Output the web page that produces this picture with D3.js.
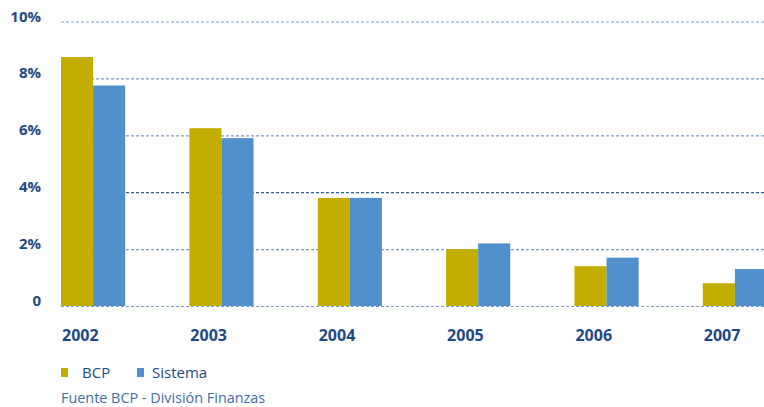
<!DOCTYPE html>
<html>
<head>
<meta charset="utf-8">
<script src="https://cdnjs.cloudflare.com/ajax/libs/d3/7.8.5/d3.min.js"></script>
<style>
  body { margin: 0; background: #fff; }
  svg { display: block; font-family: "Open Sans", "Noto Sans", sans-serif; }
</style>
</head>
<body>
<svg></svg>
<script>
const width = 764;
const height = 407;

// datos
const years = ["2002", "2003", "2004", "2005", "2006", "2007"];
const bcp = [8.75, 6.25, 3.8, 2.0, 1.4, 0.8];
const sistema = [7.75, 5.9, 3.8, 2.2, 1.7, 1.3];
const yTicks = [0, 2, 4, 6, 8, 10];
const seriesNames = ["BCP", "Sistema"];
const colors = ["#c3ae00", "#5190cd"];
const fuente = "Fuente BCP - División Finanzas";

const textColor = "#1d4a86";

let svg = d3.select("svg")
    .attr("width", width)
    .attr("height", height);

// escalas
let scX = d3.scaleBand()
    .domain(years)
    .range([61, 767])
    .paddingInner(0.5)
    .paddingOuter(0);
let scSeries = d3.scaleBand()
    .domain(seriesNames)
    .range([0, scX.bandwidth()]);
let scY = d3.scaleLinear()
    .domain([0, 10])
    .range([306, 21.5]);

// lineas de fondo punteadas
svg.append("g")
    .selectAll("line")
    .data(yTicks)
    .enter()
    .append("line")
    .attr("x1", 61)
    .attr("x2", width)
    .attr("y1", d => scY(d) + 0.5)
    .attr("y2", d => scY(d) + 0.5)
    .attr("stroke", d => d == 4 ? "#2f5a94" : "#7e9cc2")
    .attr("stroke-width", 1.2)
    .attr("stroke-dasharray", "3,2");

// etiquetas del eje Y
svg.append("g")
    .selectAll("text")
    .data(yTicks)
    .enter()
    .append("text")
    .attr("x", 41)
    .attr("y", d => scY(d))
    .attr("text-anchor", "end")
    .style("font-size", "15px")
    .style("font-weight", "bold")
    .style("fill", textColor)
    .text(d => d == 0 ? "0" : d + "%");

// barras
let data = years.map((y, i) => ({ year: y, values: [bcp[i], sistema[i]] }));
let groups = svg.append("g")
    .selectAll("g")
    .data(data)
    .enter()
    .append("g")
    .attr("transform", d => `translate(${scX(d.year)}, 0)`);

groups.selectAll("rect")
    .data(d => d.values.map((v, i) => ({ name: seriesNames[i], value: v, color: colors[i] })))
    .enter()
    .append("rect")
    .attr("x", d => scSeries(d.name))
    .attr("width", scSeries.bandwidth())
    .attr("y", d => scY(d.value))
    .attr("height", d => scY(0) - scY(d.value))
    .style("fill", d => d.color);

// etiquetas del eje X
svg.append("g")
    .selectAll("text")
    .data(years)
    .enter()
    .append("text")
    .attr("x", d => scX(d) + 1)
    .attr("y", 341)
    .style("font-size", "16px")
    .style("font-weight", "bold")
    .style("fill", textColor)
    .text(d => d);

// leyenda
let legendX = [61, 137];
let legendTextX = [82, 152];
let legend = svg.append("g")
    .selectAll("g")
    .data(seriesNames)
    .enter()
    .append("g");
legend.append("rect")
    .attr("x", (d, i) => legendX[i])
    .attr("y", 368)
    .attr("width", 7)
    .attr("height", 9)
    .style("fill", (d, i) => colors[i]);
legend.append("text")
    .attr("x", (d, i) => legendTextX[i])
    .attr("y", 377.5)
    .style("font-size", "15px")
    .style("fill", textColor)
    .text(d => d);

// fuente
svg.append("text")
    .attr("x", 61)
    .attr("y", 403)
    .style("font-size", "14.4px")
    .style("fill", "#3f6ea8")
    .text(fuente);
</script>
</body>
</html>
